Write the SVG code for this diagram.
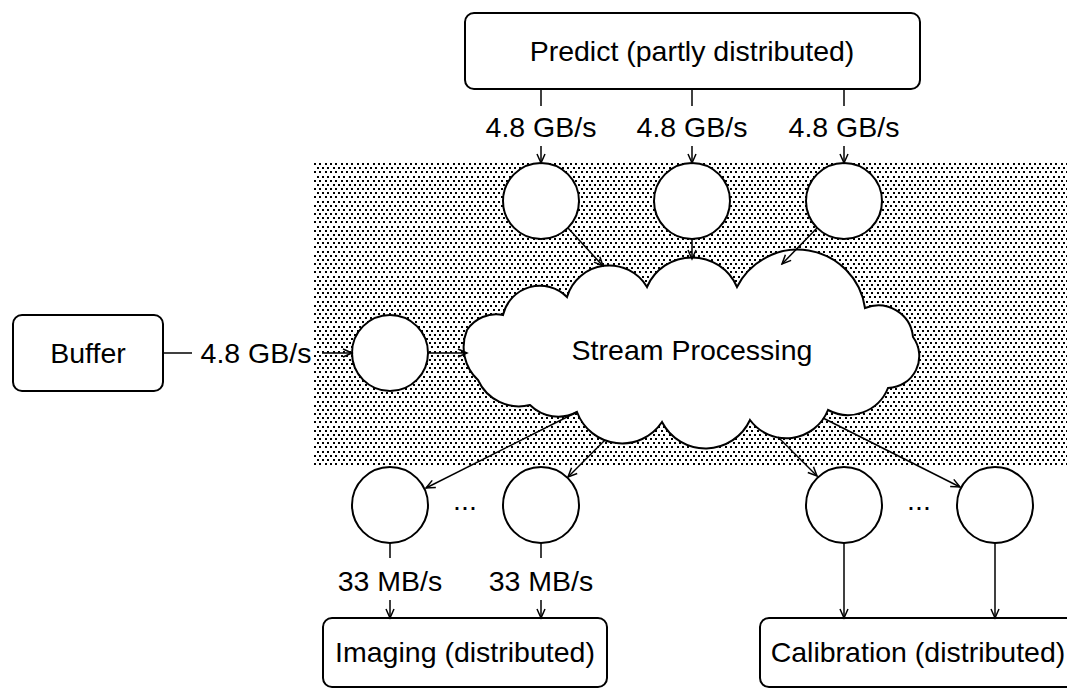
<svg xmlns="http://www.w3.org/2000/svg" width="1067" height="689" viewBox="0 0 1067 689">
<defs>
<pattern id="dots" patternUnits="userSpaceOnUse" x="314" y="163" width="16" height="25">
<g fill="#000">
<rect x="0" y="0" width="2" height="2"/><rect x="5" y="0" width="2" height="2"/><rect x="11" y="0" width="2" height="2"/>
<rect x="3" y="4" width="2" height="2"/><rect x="8" y="4" width="2" height="2"/><rect x="13" y="4" width="2" height="2"/>
<rect x="0" y="8" width="2" height="2"/><rect x="5" y="8" width="2" height="2"/><rect x="11" y="8" width="2" height="2"/>
<rect x="3" y="13" width="2" height="2"/><rect x="8" y="13" width="2" height="2"/><rect x="13" y="13" width="2" height="2"/>
<rect x="0" y="17" width="2" height="2"/><rect x="5" y="17" width="2" height="2"/><rect x="11" y="17" width="2" height="2"/>
<rect x="3" y="21" width="2" height="2"/><rect x="8" y="21" width="2" height="2"/><rect x="13" y="21" width="2" height="2"/>
</g>
</pattern>
<marker id="arr" markerUnits="userSpaceOnUse" markerWidth="12" markerHeight="12" refX="10" refY="5" orient="auto" viewBox="0 0 12 10">
<path d="M1,1 L10,5 L1,9" fill="none" stroke="#000" stroke-width="1.5"/>
</marker>
<style>
.box{fill:#fff;stroke:#000;stroke-width:2}
.node{fill:#fff;stroke:#000;stroke-width:2}
.lbl{font-family:"Liberation Sans",Arial,sans-serif;font-size:28.5px;fill:#000;text-anchor:middle}
.edge{fill:none;stroke:#000;stroke-width:1.5}
.arrow{fill:none;stroke:#000;stroke-width:1.5;marker-end:url(#arr)}
</style>
</defs>
<rect id="stream-area" x="314" y="163" width="753" height="303" fill="url(#dots)"/>

<g id="predict">
<rect class="box" x="465" y="13" width="455" height="76" rx="9"/>
<text class="lbl" x="692" y="61">Predict (partly distributed)</text>
</g>
<g id="buffer">
<rect class="box" x="13" y="315" width="150" height="76" rx="9"/>
<text class="lbl" x="88" y="363">Buffer</text>
</g>
<g id="imaging">
<rect class="box" x="323" y="618" width="284" height="69" rx="9"/>
<text class="lbl" x="465" y="662">Imaging (distributed)</text>
</g>
<g id="calibration">
<rect class="box" x="760" y="618" width="320" height="69" rx="9"/>
<text class="lbl" x="918" y="662">Calibration (distributed)</text>
</g>

<g id="cloud">
<path class="node" d="M467,330 A35,35 0 0 1 503,315 A38,38 0 0 1 567,297 A44,44 0 0 1 647,287 A49,49 0 0 1 737,287 A68,68 0 0 1 865,308 A35,35 0 0 1 913,337 A32,32 0 0 1 888,388 A43,43 0 0 1 828,410 A45,45 0 0 1 750,420 A49,49 0 0 1 662,422 A48,48 0 0 1 577,412 A40,40 0 0 1 530,405 A45,45 0 0 1 478,380 A45,45 0 0 1 467,330 Z"/>
<text class="lbl" x="692" y="360">Stream Processing</text>
</g>

<g id="in-predict-1"><circle class="node" cx="541" cy="201" r="38"/></g>
<g id="in-predict-2"><circle class="node" cx="692" cy="201" r="38"/></g>
<g id="in-predict-3"><circle class="node" cx="844" cy="201" r="38"/></g>
<g id="in-buffer"><circle class="node" cx="390" cy="353" r="38"/></g>
<g id="out-img-1"><circle class="node" cx="390" cy="505" r="38"/></g>
<g id="out-img-2"><circle class="node" cx="541" cy="505" r="38"/></g>
<g id="out-cal-1"><circle class="node" cx="844" cy="505" r="38"/></g>
<g id="out-cal-2"><circle class="node" cx="995" cy="505" r="38"/></g>
<text class="lbl" x="465" y="510">...</text>
<text class="lbl" x="919" y="510">...</text>

<g id="connectors">
<line class="edge" x1="541" y1="89" x2="541" y2="106"/>
<line class="edge" x1="692" y1="89" x2="692" y2="106"/>
<line class="edge" x1="844" y1="89" x2="844" y2="106"/>
<text class="lbl" x="541" y="137">4.8 GB/s</text>
<text class="lbl" x="692" y="137">4.8 GB/s</text>
<text class="lbl" x="844" y="137">4.8 GB/s</text>
<line class="arrow" x1="541" y1="146" x2="541" y2="163"/>
<line class="arrow" x1="692" y1="146" x2="692" y2="163"/>
<line class="arrow" x1="844" y1="146" x2="844" y2="163"/>
<line class="edge" x1="163" y1="353" x2="192" y2="353"/>
<text class="lbl" x="256" y="363">4.8 GB/s</text>
<line class="arrow" x1="322" y1="353" x2="352" y2="353"/>
<line class="arrow" x1="428" y1="353" x2="467" y2="353"/>
<line class="arrow" x1="568" y1="228" x2="603" y2="266"/>
<line class="arrow" x1="692" y1="239" x2="692" y2="259"/>
<line class="arrow" x1="817" y1="228" x2="782" y2="264"/>
<line class="arrow" x1="577" y1="412" x2="426" y2="488"/>
<line class="arrow" x1="605" y1="440" x2="568" y2="477"/>
<line class="arrow" x1="778" y1="437" x2="817" y2="476"/>
<line class="arrow" x1="823" y1="418" x2="960" y2="487"/>
<line class="edge" x1="390" y1="543" x2="390" y2="558"/>
<line class="edge" x1="541" y1="543" x2="541" y2="558"/>
<text class="lbl" x="390" y="591">33 MB/s</text>
<text class="lbl" x="541" y="591">33 MB/s</text>
<line class="arrow" x1="390" y1="600" x2="390" y2="618"/>
<line class="arrow" x1="541" y1="600" x2="541" y2="618"/>
<line class="arrow" x1="844" y1="543" x2="844" y2="618"/>
<line class="arrow" x1="995" y1="543" x2="995" y2="618"/>
</g>
</svg>
